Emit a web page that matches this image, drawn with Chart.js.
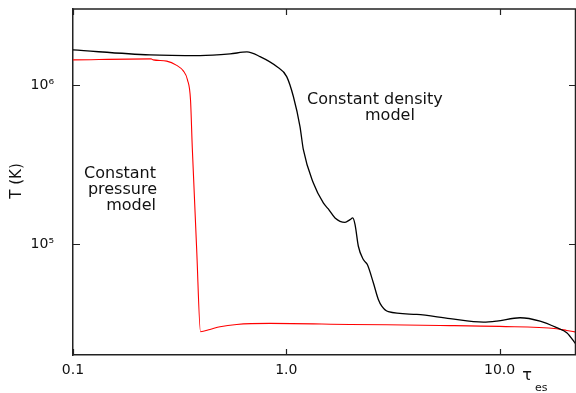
<!DOCTYPE html>
<html>
<head>
<meta charset="utf-8">
<script src="https://cdn.jsdelivr.net/npm/chart.js@4/dist/chart.umd.min.js"></script>
<style>
  html, body { margin: 0; padding: 0; background: #fff; }
  #wrap { width: 576px; height: 393px; }
</style>
</head>
<body>
<div id="wrap"><canvas id="tempChart"></canvas></div>
<script>
// Temperature vs electron scattering optical depth
const densityTau  = [0.1, 0.2296, 0.394, 0.545, 0.654, 0.753, 0.9016, 1.004, 1.079, 1.159, 1.202, 1.339, 1.491, 1.573, 1.692, 1.884, 1.989, 2.048, 2.10, 2.176, 2.296, 2.398, 2.558, 2.70, 2.802, 3.008, 4.087, 5.855, 8.387, 9.69, 12.46, 15.47, 18.52, 20.64, 22.81];
const densityTemp = [1.658e6, 1.543e6, 1.527e6, 1.565e6, 1.611e6, 1.505e6, 1.303e6, 1.127e6, 8.445e5, 5.47e5, 3.908e5, 2.415e5, 1.809e5, 1.658e5, 1.456e5, 1.367e5, 1.421e5, 1.456e5, 1.322e5, 9.66e4, 7.965e4, 7.413e4, 5.69e4, 4.471e4, 4.058e4, 3.742e4, 3.599e4, 3.382e4, 3.219e4, 3.266e4, 3.431e4, 3.266e4, 2.970e4, 2.762e4, 2.332e4];

const pressureTau  = [0.1, 0.2321, 0.2379, 0.2750, 0.3063, 0.3289, 0.3441, 0.3555, 0.3624, 0.3800, 0.3960, 0.4388, 0.4889, 0.5853, 0.8387, 1.989, 5.254, 10.0, 18.52, 20.64, 22.81];
const pressureTemp = [1.436e6, 1.457e6, 1.436e6, 1.411e6, 1.326e6, 1.224e6, 1.075e6, 8.05e5, 4.023e5, 9.21e4, 2.803e4, 2.897e4, 3.013e4, 3.114e4, 3.160e4, 3.114e4, 3.069e4, 3.026e4, 2.927e4, 2.855e4, 2.787e4];

const xTickValues = [0.1, 1, 10];
const xTickLabels = ['0.1', '1.0', '10.0'];
const yTickValues = [1e5, 1e6];
const yTickLabels = ['10\u2075', '10\u2076'];

const X_MIN = 0.1, X_MAX = 22.8;
const Y_MIN = 2e4, Y_MAX = 3e6;

// decade ticks plus 2..9 minor ticks inside [min, max]
function logTicks(min, max) {
    const out = [];
    for (let d = Math.floor(Math.log10(min)); d <= Math.ceil(Math.log10(max)); d++) {
        for (let m = 1; m <= 9; m++) {
            const v = m * Math.pow(10, d);
            if (v >= min * 0.999 && v <= max * 1.001) out.push({ value: v, major: m === 1 });
        }
    }
    return out;
}

// null for unlabelled ticks so they take no room
function labelFor(values, labels, v) {
    for (let i = 0; i < values.length; i++) {
        if (Math.abs(v / values[i] - 1) < 1e-6) return labels[i];
    }
    return null;
}

const fontFamily = '"DejaVu Sans", sans-serif';

// frame on top/right, inward ticks on all sides, notes and axis titles
const framePlugin = {
    id: 'frame',
    afterDraw(chart) {
        const ctx = chart.ctx;
        const a = chart.chartArea;
        const xs = chart.scales.x, ys = chart.scales.y;
        ctx.save();
        ctx.strokeStyle = '#222';
        ctx.lineWidth = 1.5;
        ctx.beginPath();
        ctx.moveTo(a.left, a.top); ctx.lineTo(a.right - 0.5, a.top);
        ctx.lineTo(a.right - 0.5, a.bottom);
        ctx.stroke();

        ctx.lineWidth = 1.2;
        ctx.beginPath();
        xs.ticks.forEach(t => {
            const px = Math.round(xs.getPixelForValue(t.value)) + 0.5;
            const len = t.major ? 6 : 3.5;
            ctx.moveTo(px, a.bottom); ctx.lineTo(px, a.bottom - len);
            ctx.moveTo(px, a.top); ctx.lineTo(px, a.top + len);
        });
        ys.ticks.forEach(t => {
            const py = Math.round(ys.getPixelForValue(t.value)) + 0.5;
            const len = t.major ? 7 : 4;
            ctx.moveTo(a.left, py); ctx.lineTo(a.left + len, py);
            ctx.moveTo(a.right, py); ctx.lineTo(a.right - len, py);
        });
        ctx.stroke();

        ctx.fillStyle = '#111';
        ctx.font = '16px ' + fontFamily;
        ctx.textBaseline = 'middle';
        ctx.textAlign = 'left';
        ctx.fillText('Constant density', 307, 100);
        ctx.fillText('model', 365, 116);
        ctx.textAlign = 'right';
        ctx.fillText('Constant', 156, 174);
        ctx.fillText('pressure', 157, 190);
        ctx.fillText('model', 156, 206);

        // axis titles
        ctx.font = '15px ' + fontFamily;
        ctx.save();
        ctx.translate(17, 181);
        ctx.rotate(-Math.PI / 2);
        ctx.textAlign = 'center';
        ctx.fillText('T (K)', 0, 0);
        ctx.restore();

        ctx.textAlign = 'center';
        ctx.font = '16px ' + fontFamily;
        ctx.fillText('\u03c4', 527, 376);
        ctx.textAlign = 'left';
        ctx.font = '11px ' + fontFamily;
        ctx.fillText('es', 535, 388);
        ctx.restore();
    }
};

new Chart(document.getElementById('tempChart'), {
    type: 'line',
    data: {
        datasets: [
            {
                label: 'Constant density model',
                data: densityTau.map((x, i) => ({ x: x, y: densityTemp[i] })),
                borderColor: '#000',
                borderWidth: 1.3,
                pointRadius: 0,
                cubicInterpolationMode: 'monotone',
                fill: false
            },
            {
                label: 'Constant pressure model',
                data: pressureTau.map((x, i) => ({ x: x, y: pressureTemp[i] })),
                borderColor: '#ff0000',
                borderWidth: 1.1,
                pointRadius: 0,
                cubicInterpolationMode: 'monotone',
                fill: false
            }
        ]
    },
    options: {
        responsive: true,
        maintainAspectRatio: false,
        animation: false,
        layout: { padding: { top: 9, right: 0, left: 0, bottom: 0 } },
        plugins: {
            legend: { display: false },
            tooltip: { enabled: false }
        },
        scales: {
            x: {
                type: 'logarithmic',
                min: X_MIN,
                max: X_MAX,
                afterBuildTicks: scale => { scale.ticks = logTicks(X_MIN, X_MAX); },
                afterFit: scale => {
                    scale.height = 38;
                    scale.paddingLeft = 0;
                    scale.paddingRight = 0;
                },
                grid: { display: false, drawTicks: false },
                border: { display: true, color: '#222', width: 1.5 },
                ticks: {
                    autoSkip: false,
                    maxRotation: 0,
                    padding: 7,
                    color: '#111',
                    font: { family: fontFamily, size: 14 },
                    callback: v => labelFor(xTickValues, xTickLabels, v)
                }
            },
            y: {
                type: 'logarithmic',
                min: Y_MIN,
                max: Y_MAX,
                afterBuildTicks: scale => { scale.ticks = logTicks(Y_MIN, Y_MAX); },
                afterFit: scale => {
                    scale.width = 73;
                    scale.paddingTop = 0;
                    scale.paddingBottom = 0;
                },
                grid: { display: false, drawTicks: false },
                border: { display: true, color: '#222', width: 1.5 },
                ticks: {
                    autoSkip: false,
                    padding: 19,
                    color: '#111',
                    font: { family: fontFamily, size: 14 },
                    callback: v => labelFor(yTickValues, yTickLabels, v)
                }
            }
        }
    },
    plugins: [framePlugin]
});
</script>
</body>
</html>
